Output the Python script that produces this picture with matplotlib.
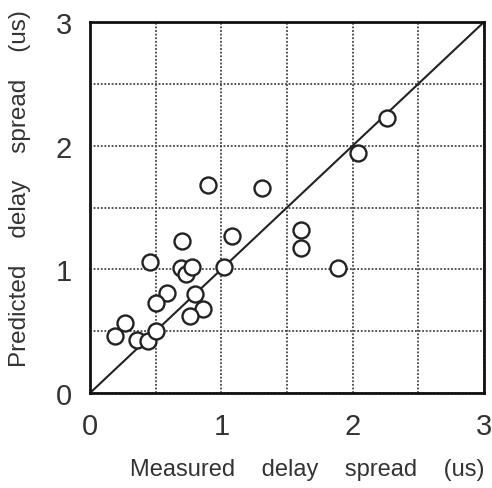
import matplotlib.pyplot as plt
import numpy as np

# measured vs predicted delay spread (us)
measured = [2.26, 2.04, 0.90, 1.31, 1.08, 1.61, 1.61, 1.89, 0.70, 0.46,
            0.69, 0.73, 0.78, 1.02, 0.59, 0.50, 0.80, 0.86, 0.76, 0.27,
            0.19, 0.36, 0.44, 0.50]
predicted = [2.22, 1.94, 1.68, 1.66, 1.27, 1.32, 1.17, 1.01, 1.23, 1.06,
             1.01, 0.96, 1.02, 1.02, 0.81, 0.73, 0.80, 0.68, 0.62, 0.57,
             0.46, 0.43, 0.42, 0.50]
ticks = [0, 1, 2, 3]

plt.rcParams['font.family'] = ['Liberation Sans', 'DejaVu Sans']
txt = '#333333'

fig = plt.figure(figsize=(4.92, 4.89), dpi=100)
ax = fig.add_axes([90/492, 1 - 394/489, 394/492, 371/489])

ax.plot([0, 3], [0, 3], color='#222222', lw=1.5, zorder=2)
ax.plot(measured, predicted, 'o', mfc='white', mec='#222222', ms=11.5, mew=1.7, zorder=3)

ax.set_xlim(0, 3)
ax.set_ylim(0, 3)
ax.set_xticks(ticks)
ax.set_yticks(ticks)
ax.set_xticks(np.arange(0.5, 3, 0.5), minor=True)
ax.set_yticks(np.arange(0.5, 3, 0.5), minor=True)
ax.grid(which='both', color='#444444', ls=(0, (1, 1)), lw=1.3)
ax.tick_params(which='both', length=0)
ax.tick_params(labelsize=21, labelcolor=txt)
ax.tick_params(axis='x', pad=14)
ax.tick_params(axis='y', pad=13)
for s in ax.spines.values():
    s.set_linewidth(2)
    s.set_color('#111111')

fig.text(0.625, 0.039, 'Measured    delay    spread    (us)', fontsize=17,
         color=txt, ha='center', va='center')
fig.text(0.041, 0.615, 'Predicted    delay    spread    (us)', fontsize=17.5,
         color=txt, ha='center', va='center', rotation=90)

fig.savefig('out.png', dpi=100)
